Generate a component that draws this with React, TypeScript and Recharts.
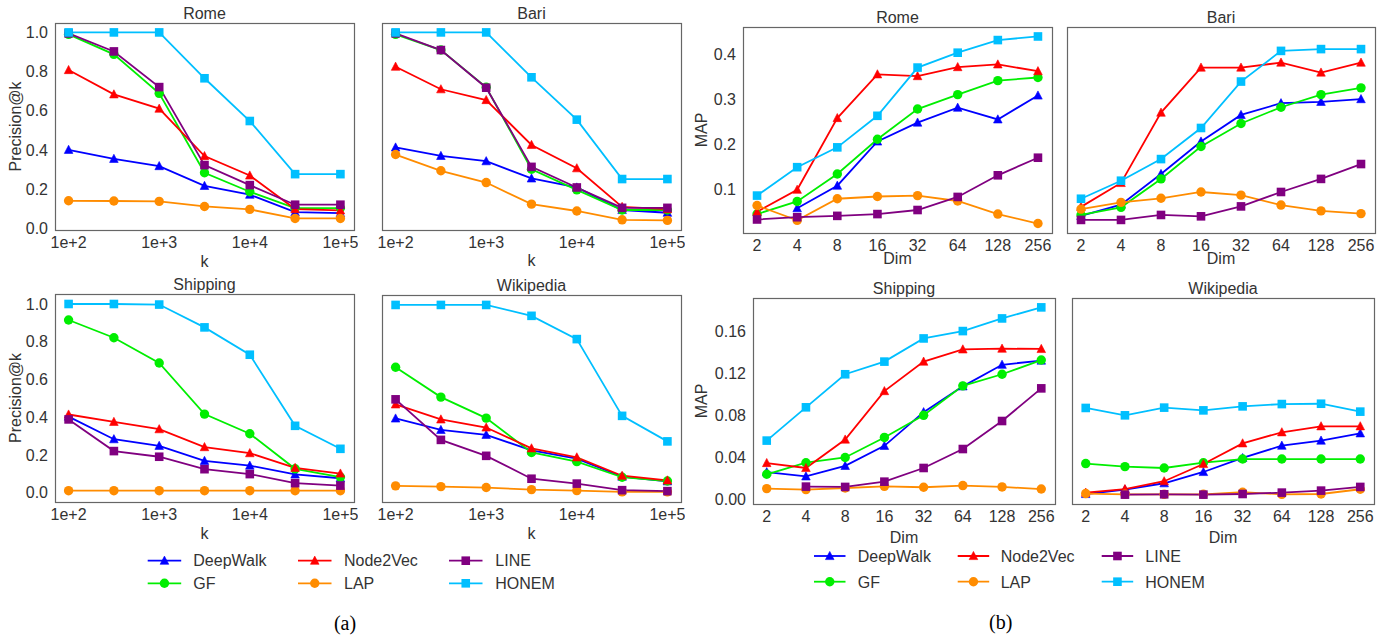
import React from 'react';
import { LineChart, Line, XAxis, YAxis } from 'recharts';

// ---------- categories / ticks ----------
const methods = ['DeepWalk', 'GF', 'Node2Vec', 'LAP', 'LINE', 'HONEM'];
const kPositions = [2, 2.5, 3, 3.5, 4, 4.5, 5]; // log10(k)
const kTicks = [2, 3, 4, 5];
const kTickLabels = ['1e+2', '1e+3', '1e+4', '1e+5'];
const dimPositions = [0, 1, 2, 3, 4, 5, 6, 7];
const dimTickLabels = ['2', '4', '8', '16', '32', '64', '128', '256'];
const precTicks = [0, 0.2, 0.4, 0.6, 0.8, 1.0];
const mapTicksTop = [0.1, 0.2, 0.3, 0.4];
const mapTicksBottom = [0, 0.04, 0.08, 0.12, 0.16];

// ---------- (a) Precision@k ----------
const romePrecision = {
  DeepWalk: [0.401, 0.355, 0.318, 0.217, 0.172, 0.083, 0.078],
  GF: [0.99, 0.888, 0.689, 0.284, 0.187, 0.104, 0.104],
  Node2Vec: [0.808, 0.684, 0.611, 0.369, 0.27, 0.099, 0.092],
  LAP: [0.141, 0.14, 0.138, 0.112, 0.097, 0.051, 0.051],
  LINE: [0.995, 0.903, 0.721, 0.323, 0.221, 0.121, 0.121],
  HONEM: [1.0, 1.0, 1.0, 0.766, 0.548, 0.277, 0.277],
};
const bariPrecision = {
  DeepWalk: [0.413, 0.37, 0.343, 0.255, 0.209, 0.094, 0.08],
  GF: [0.99, 0.91, 0.72, 0.302, 0.197, 0.094, 0.094],
  Node2Vec: [0.825, 0.71, 0.655, 0.426, 0.307, 0.11, 0.098],
  LAP: [0.377, 0.294, 0.234, 0.124, 0.089, 0.044, 0.041],
  LINE: [0.995, 0.91, 0.718, 0.314, 0.209, 0.105, 0.105],
  HONEM: [1.0, 1.0, 1.0, 0.771, 0.555, 0.252, 0.252],
};
const shippingPrecision = {
  DeepWalk: [0.403, 0.283, 0.248, 0.168, 0.143, 0.096, 0.076],
  GF: [0.915, 0.821, 0.687, 0.416, 0.312, 0.126, 0.082],
  Node2Vec: [0.414, 0.375, 0.336, 0.241, 0.209, 0.131, 0.101],
  LAP: [0.01, 0.01, 0.01, 0.01, 0.01, 0.01, 0.01],
  LINE: [0.388, 0.22, 0.19, 0.124, 0.098, 0.05, 0.037],
  HONEM: [1.0, 1.0, 0.997, 0.876, 0.731, 0.354, 0.232],
};
const wikipediaPrecision = {
  DeepWalk: [0.395, 0.334, 0.308, 0.225, 0.181, 0.085, 0.06],
  GF: [0.668, 0.509, 0.397, 0.214, 0.165, 0.082, 0.062],
  Node2Vec: [0.47, 0.39, 0.347, 0.236, 0.188, 0.09, 0.065],
  LAP: [0.036, 0.032, 0.027, 0.016, 0.011, 0.004, 0.004],
  LINE: [0.497, 0.281, 0.196, 0.074, 0.048, 0.013, 0.008],
  HONEM: [1.0, 1.0, 1.0, 0.942, 0.818, 0.409, 0.273],
};

// ---------- (b) MAP ----------
const romeMap = {
  DeepWalk: [null, 0.059, 0.109, 0.207, 0.249, 0.282, 0.256, 0.309],
  GF: [0.046, 0.074, 0.135, 0.212, 0.279, 0.311, 0.342, 0.349],
  Node2Vec: [0.051, 0.1, 0.259, 0.356, 0.352, 0.372, 0.378, 0.363],
  LAP: [0.065, 0.032, 0.08, 0.085, 0.087, 0.075, 0.046, 0.025],
  LINE: [0.034, 0.039, 0.042, 0.046, 0.055, 0.084, 0.132, 0.171],
  HONEM: [0.087, 0.15, 0.194, 0.264, 0.371, 0.404, 0.432, 0.44],
};
const bariMap = {
  DeepWalk: [0.042, 0.067, 0.135, 0.207, 0.266, 0.292, 0.295, 0.301],
  GF: [0.044, 0.061, 0.124, 0.196, 0.247, 0.283, 0.311, 0.326],
  Node2Vec: [0.062, 0.115, 0.271, 0.371, 0.371, 0.382, 0.36, 0.382],
  LAP: [0.057, 0.072, 0.081, 0.095, 0.088, 0.066, 0.053, 0.047],
  LINE: [0.033, 0.033, 0.044, 0.041, 0.063, 0.095, 0.124, 0.157],
  HONEM: [0.08, 0.12, 0.168, 0.237, 0.34, 0.408, 0.412, 0.412],
};
const shippingMap = {
  DeepWalk: [0.026, 0.022, 0.032, 0.051, 0.083, 0.1075, 0.128, 0.132],
  GF: [0.024, 0.035, 0.04, 0.059, 0.08, 0.108, 0.119, 0.1325],
  Node2Vec: [0.0347, 0.03, 0.057, 0.103, 0.131, 0.1426, 0.1433, 0.143],
  LAP: [0.0104, 0.0095, 0.011, 0.0126, 0.0117, 0.0133, 0.012, 0.01],
  LINE: [null, 0.0123, 0.012, 0.017, 0.03, 0.048, 0.0746, 0.1056],
  HONEM: [0.056, 0.0876, 0.119, 0.131, 0.153, 0.16, 0.172, 0.1825],
};
const wikipediaMap = {
  DeepWalk: [0.0053, 0.0095, 0.0155, 0.0262, 0.0395, 0.0512, 0.056, 0.0629],
  GF: [0.0342, 0.0313, 0.03, 0.035, 0.0385, 0.0385, 0.0385, 0.0385],
  Node2Vec: [0.0066, 0.01, 0.0174, 0.0338, 0.0534, 0.0639, 0.0696, 0.0696],
  LAP: [0.0057, 0.005, 0.005, 0.005, 0.007, 0.005, 0.0053, 0.0098],
  LINE: [null, 0.0047, 0.005, 0.0047, 0.0053, 0.0066, 0.0085, 0.012],
  HONEM: [0.087, 0.08, 0.0873, 0.0847, 0.0885, 0.0907, 0.091, 0.0835],
};

// ---------- styles ----------
const colors: Record<string, string> = {
  DeepWalk: '#0000ff',
  GF: '#00ee00',
  Node2Vec: '#ff0000',
  LAP: '#ff8c00',
  LINE: '#800080',
  HONEM: '#00bfff',
};
const shapes: Record<string, string> = {
  DeepWalk: 'tri',
  GF: 'circle',
  Node2Vec: 'tri',
  LAP: 'circle',
  LINE: 'square',
  HONEM: 'square',
};
const FONT = '"Liberation Sans", Arial, sans-serif';
const TXT = '#333333';
const FS = 16;

function Marker({ shape, cx, cy, color }: any) {
  if (shape === 'tri') {
    return (
      <polygon
        points={`${cx},${cy - 4.6} ${cx - 4.3},${cy + 3.6} ${cx + 4.3},${cy + 3.6}`}
        fill={color}
        stroke={color}
        strokeWidth={0.6}
      />
    );
  }
  if (shape === 'circle') return <circle cx={cx} cy={cy} r={4.7} fill={color} />;
  return <rect x={cx - 4.3} y={cy - 4.3} width={8.6} height={8.6} fill={color} />;
}

const makeDot = (shape: string, color: string) => (props: any) => {
  const { cx, cy, index, value } = props;
  if (cx == null || cy == null || value == null || Number.isNaN(cx) || Number.isNaN(cy)) {
    return <g key={`e${index}`} />;
  }
  return (
    <g key={`m${index}`}>
      <Marker shape={shape} cx={cx} cy={cy} color={color} />
    </g>
  );
};

type PanelCfg = {
  title: string;
  x0: number; x1: number; y0: number; y1: number;
  data: Record<string, (number | null)[]>;
  kind: 'k' | 'dim';
  showY: boolean;
  yDomain: [number, number];
  yTicks: number[];
  yDigits: number;
  xLabelBaseline: number;
  yLabel?: string;
  yLabelX?: number;
};

const panels: PanelCfg[] = [
  { title: 'Rome', x0: 55, x1: 354, y0: 23, y1: 230, data: romePrecision, kind: 'k', showY: true, yDomain: [-0.008, 1.048], yTicks: precTicks, yDigits: 1, xLabelBaseline: 266.5, yLabel: 'Precision@k', yLabelX: 21 },
  { title: 'Bari', x0: 382, x1: 681, y0: 23, y1: 230, data: bariPrecision, kind: 'k', showY: false, yDomain: [-0.008, 1.048], yTicks: precTicks, yDigits: 1, xLabelBaseline: 266 },
  { title: 'Shipping', x0: 55, x1: 354, y0: 294, y1: 502, data: shippingPrecision, kind: 'k', showY: true, yDomain: [-0.05, 1.053], yTicks: precTicks, yDigits: 1, xLabelBaseline: 539, yLabel: 'Precision@k', yLabelX: 21 },
  { title: 'Wikipedia', x0: 382, x1: 681, y0: 295, y1: 502, data: wikipediaPrecision, kind: 'k', showY: false, yDomain: [-0.05, 1.053], yTicks: precTicks, yDigits: 1, xLabelBaseline: 538.5 },
  { title: 'Rome', x0: 743, x1: 1052, y0: 27, y1: 233, data: romeMap, kind: 'dim', showY: true, yDomain: [0.004, 0.461], yTicks: mapTicksTop, yDigits: 1, xLabelBaseline: 263.5, yLabel: 'MAP', yLabelX: 706.5 },
  { title: 'Bari', x0: 1067, x1: 1375, y0: 27, y1: 233, data: bariMap, kind: 'dim', showY: false, yDomain: [0.004, 0.461], yTicks: mapTicksTop, yDigits: 1, xLabelBaseline: 264 },
  { title: 'Shipping', x0: 753, x1: 1055, y0: 298, y1: 504, data: shippingMap, kind: 'dim', showY: true, yDomain: [-0.0042, 0.1914], yTicks: mapTicksBottom, yDigits: 2, xLabelBaseline: 542.5, yLabel: 'MAP', yLabelX: 707 },
  { title: 'Wikipedia', x0: 1072, x1: 1374, y0: 298, y1: 504, data: wikipediaMap, kind: 'dim', showY: false, yDomain: [-0.0042, 0.1914], yTicks: mapTicksBottom, yDigits: 2, xLabelBaseline: 542.5 },
];

function Panel({ p }: { p: PanelCfg }) {
  const ml = 60, mr = 4, mt = 4, mb = 30;
  const w = p.x1 - p.x0 + ml + mr;
  const h = p.y1 - p.y0 + mt + mb;
  const positions = p.kind === 'k' ? kPositions : dimPositions;
  const rows = positions.map((x, i) => {
    const r: any = { x };
    methods.forEach((m) => { r[m] = p.data[m][i]; });
    return r;
  });
  const xDomain = p.kind === 'k' ? [1.85, 5.15] : [-0.35, 7.35];
  const xTicks = p.kind === 'k' ? kTicks : dimPositions;
  const xFmt = (v: number) =>
    p.kind === 'k' ? kTickLabels[kTicks.indexOf(v)] : dimTickLabels[dimPositions.indexOf(v)];
  const tickStyle = { fill: TXT, fontSize: FS, fontFamily: FONT };
  return (
    <div style={{ position: 'absolute', left: p.x0 - ml, top: p.y0 - mt }}>
      <LineChart width={w} height={h} data={rows} margin={{ top: mt, right: mr, left: 0, bottom: 0 }}>
        <XAxis
          dataKey="x"
          type="number"
          domain={xDomain}
          ticks={xTicks}
          tickFormatter={xFmt}
          interval={0}
          allowDataOverflow
          height={mb}
          axisLine={false}
          tickLine={false}
          tickSize={0}
          tickMargin={7}
          tick={tickStyle}
        />
        <YAxis
          type="number"
          domain={p.yDomain}
          ticks={p.yTicks}
          tickFormatter={(v: number) => v.toFixed(p.yDigits)}
          interval={0}
          allowDataOverflow
          width={ml}
          axisLine={false}
          tickLine={false}
          tickSize={0}
          tickMargin={7}
          tick={p.showY ? tickStyle : false}
        />
        {methods.map((m) => (
          <Line
            key={m}
            dataKey={m}
            type="linear"
            stroke={colors[m]}
            strokeWidth={1.8}
            dot={makeDot(shapes[m], colors[m])}
            activeDot={false}
            connectNulls={false}
            isAnimationActive={false}
          />
        ))}
      </LineChart>
    </div>
  );
}

const legendA = { lineX: [147.7, 298, 449], len: 33.5, textX: [193.3, 344, 495.3], lineY: [560.7, 583.3], base: [566, 588.5] };
const legendB = { lineX: [814, 957.7, 1101.7], len: 31.5, textX: [857.7, 1000.7, 1145.3], lineY: [556, 581.7], base: [562, 587.5] };

function Legend({ L }: any) {
  return (
    <g>
      {methods.map((m, i) => {
        const col = Math.floor(i / 2);
        const row = i % 2;
        const x1 = L.lineX[col];
        const y = L.lineY[row];
        const cx = x1 + L.len / 2;
        return (
          <g key={m}>
            <line x1={x1} x2={x1 + L.len} y1={y} y2={y} stroke={colors[m]} strokeWidth={1.8} />
            <Marker shape={shapes[m]} cx={cx} cy={y} color={colors[m]} />
            <text x={L.textX[col]} y={L.base[row]} fontSize={FS} fill={TXT} fontFamily={FONT}>{m}</text>
          </g>
        );
      })}
    </g>
  );
}

export default function App() {
  return (
    <div style={{ position: 'absolute', left: 0, top: 0, width: 1390, height: 635, background: '#fff', fontFamily: FONT, overflow: 'hidden' }}>
      {panels.map((p, i) => <Panel key={i} p={p} />)}
      <svg width={1390} height={635} style={{ position: 'absolute', left: 0, top: 0, pointerEvents: 'none' }}>
        {panels.map((p, i) => (
          <g key={i}>
            <rect x={p.x0 + 0.5} y={p.y0 + 0.5} width={p.x1 - p.x0} height={p.y1 - p.y0} fill="none" stroke="#666" strokeWidth={1.2} />
            <text x={(p.x0 + p.x1) / 2} y={p.y0 - 4.5} textAnchor="middle" fontSize={FS} fill={TXT} fontFamily={FONT}>{p.title}</text>
            <text x={(p.x0 + p.x1) / 2} y={p.xLabelBaseline} textAnchor="middle" fontSize={FS} fill={TXT} fontFamily={FONT}>{p.kind === 'k' ? 'k' : 'Dim'}</text>
            {p.yLabel ? (
              <text
                x={p.yLabelX}
                y={(p.y0 + p.y1) / 2}
                textAnchor="middle"
                fontSize={FS}
                fill={TXT}
                fontFamily={FONT}
                transform={`rotate(-90 ${p.yLabelX} ${(p.y0 + p.y1) / 2})`}
              >
                {p.yLabel}
              </text>
            ) : null}
          </g>
        ))}
        <Legend L={legendA} />
        <Legend L={legendB} />
        <text x={345} y={629.5} textAnchor="middle" fontSize={20} fill="#000" fontFamily='"Liberation Serif", "Times New Roman", serif'>(a)</text>
        <text x={1000.7} y={629} textAnchor="middle" fontSize={20} fill="#000" fontFamily='"Liberation Serif", "Times New Roman", serif'>(b)</text>
      </svg>
    </div>
  );
}
